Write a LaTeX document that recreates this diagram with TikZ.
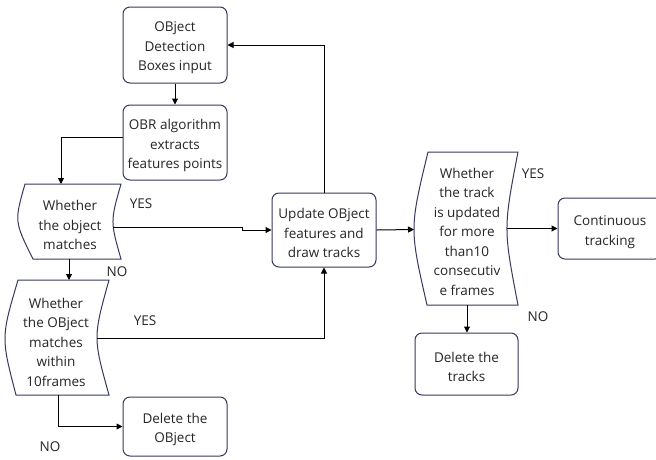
\documentclass[tikz,border=0pt]{standalone}
\usepackage{fontspec}
\setmainfont{Open Sans}
\usetikzlibrary{arrows.meta}
\definecolor{edgec}{HTML}{353A5E}
\definecolor{txtc}{HTML}{262626}
\tikzset{
  box/.style={draw=edgec, line width=1pt, rounded corners=7pt, fill=white, inner sep=0pt},
  dtext/.style={align=center, text=txtc, font=\fontsize{13.5}{19.5}\selectfont, inner sep=0pt},
  boxtext/.style={label={[dtext, yshift=-3pt]center:{#1}}},
  decshape/.style={draw=edgec, line width=1pt, fill=white},
  conn/.style={draw=black, line width=1pt, -{Triangle[length=6pt,width=6pt]}},
  lbl/.style={text=txtc, font=\fontsize{13.5}{15}\selectfont, inner sep=0pt}
}
\begin{document}
\begin{tikzpicture}[x=1pt,y=-1pt]
\fill[white] (0,0) rectangle (656,459);
\useasboundingbox (0,0) rectangle (656,459);

% boxes
\node[box, minimum width=104pt, minimum height=76pt, boxtext={OBject\\Detection\\Boxes input}] (b1) at (175,45) {};
\node[box, minimum width=104pt, minimum height=75pt, boxtext={OBR algorithm\\extracts\\features points}] (b2) at (175,142.5) {};
\node[box, minimum width=104pt, minimum height=74pt, boxtext={Update OBject\\features and\\draw tracks}] (upd) at (324,230) {};
\node[box, minimum width=104pt, minimum height=59pt, boxtext={Delete the\\OBject}] (del1) at (175,426.5) {};
\node[box, minimum width=103pt, minimum height=62pt, boxtext={Delete the\\tracks}] (del2) at (466.5,364) {};
\node[box, minimum width=104pt, minimum height=61pt] (cont) at (610,228.5) {};
\node[dtext] (conttxt) at (610,232) {Continuous\\tracking};

% decision shapes
\draw[decshape] (25,184) -- (121,184) .. controls (110.3,221.5) .. (121,259) -- (33,259) .. controls (14.3,221.5) .. (25,184) -- cycle;
\node[dtext] (d1) at (70,225) {Whether\\the object\\matches};
\draw[decshape] (18,280) -- (109,280) .. controls (93,337.5) .. (109,395) -- (16,395) .. controls (1,337.5) .. (18,280) -- cycle;
\node[dtext] (d2) at (56,342) {Whether\\the OBject\\matches\\within\\10frames};
\draw[decshape] (428,152) -- (518,152) .. controls (503.3,228.5) .. (518,305) -- (427,305) .. controls (409.5,228.5) .. (428,152) -- cycle;
\node[dtext] (d3) at (467,231.5) {Whether\\the track\\is updated\\for more\\than10\\consecutiv\\e frames};

% anchor coordinates on decision shapes
\coordinate (d1top) at (61,184);
\coordinate (d1bot) at (69,259);
\coordinate (d1r) at (113,227);
\coordinate (d2top) at (69,280);
\coordinate (d2r) at (97,338);
\coordinate (d2bot) at (58,395);
\coordinate (d3l) at (414,229.5);
\coordinate (d3r) at (507,228.5);
\coordinate (d3bot) at (467,305);
\coordinate (j1) at (242,227);
\coordinate (j2) at (242,230);

% connectors
\draw[conn] (b1) -- (b2);
\draw[conn] ([yshift=5.5pt]b2.west) -| (d1top);
\draw[conn] (d1bot) -- (d2top);
\draw[conn] (d1r) -- (j1) -- (j2) -- (upd.west);
\draw[conn] (d2r) -| (upd.south);
\draw[conn] (upd.north) |- (b1.east);
\draw[conn] (d2bot) |- (del1.west);
\draw[conn] (upd.east) -- (d3l);
\draw[conn] (d3r) -- (cont.west |- d3r);
\draw[conn] (d3bot) -- (d3bot |- del2.north);

% labels
\node[lbl] (y1) at (141,204) {YES};
\node[lbl] (n1) at (117,272) {NO};
\node[lbl] (y2) at (145,321) {YES};
\node[lbl] (n2) at (50,447) {NO};
\node[lbl] (y3) at (533,174) {YES};
\node[lbl] (n3) at (538,317) {NO};
\end{tikzpicture}
\end{document}
